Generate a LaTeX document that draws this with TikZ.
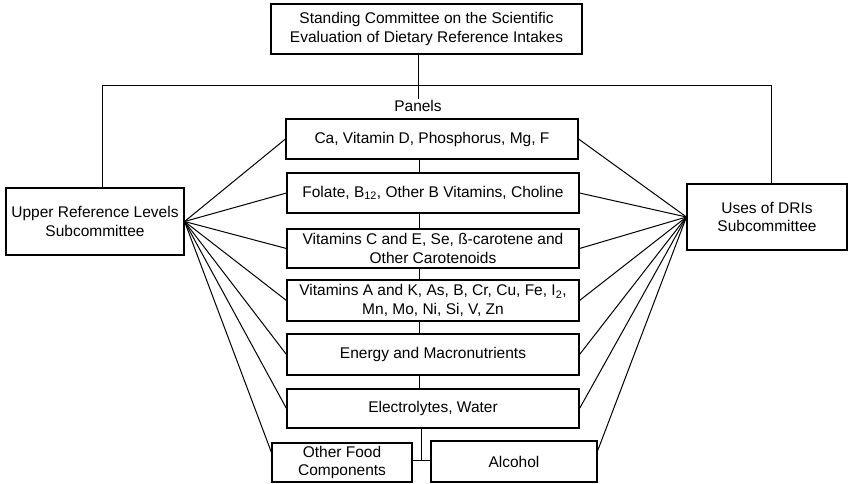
\documentclass[tikz,border=0pt]{standalone}
\usepackage{fontspec}
\setmainfont{Liberation Sans}
\usetikzlibrary{calc}
\newcommand\dfont{\fontsize{15.5}{18.5}\selectfont}
\begin{document}
\begin{tikzpicture}[x=1pt,y=-1pt,
  box/.style={draw, line width=1.1pt, inner sep=0pt, align=center, font=\dfont},
  panel/.style={box, minimum width=292pt},
  link/.style={line width=1pt}]
\useasboundingbox (0,0) rectangle (849,484);
\fill[white] (0,0) rectangle (849,484);

\node[box, minimum width=311pt, minimum height=50pt] (top) at (426.5,29)
  {Standing Committee on the Scientific\\Evaluation of Dietary Reference Intakes};
\node[box, minimum width=178pt, minimum height=67pt] (left) at (95,221.5)
  {Upper Reference Levels\\Subcommittee};
\node[box, minimum width=160pt, minimum height=66pt] (right) at (767,217)
  {Uses of DRIs\\Subcommittee};
\node[font=\dfont] (plabel) at (418,106) {Panels};

\node[panel, minimum height=40pt] (p1) at (432,139) {Ca, Vitamin D, Phosphorus, Mg, F};
\node[panel, minimum height=40pt] (p2) at (433,193) {Folate, B\textsubscript{12}, Other B Vitamins, Choline};
\node[panel, minimum height=39pt] (p3) at (433,248.5) {Vitamins C and E, Se, ß-carotene and\\Other Carotenoids};
\node[panel, minimum height=41pt] (p4) at (433,300.5) {Vitamins A and K, As, B, Cr, Cu, Fe, I\textsubscript{2},\\Mn, Mo, Ni, Si, V, Zn};
\node[panel, minimum height=41pt] (p5) at (433,354.5) {Energy and Macronutrients};
\node[panel, minimum height=39pt] (p6) at (433,408.5) {Electrolytes, Water};
\node[box, minimum width=140pt, minimum height=39pt] (ofc) at (342,462.5) {Other Food\\Components};
\node[box, minimum width=166pt, minimum height=41pt] (alc) at (514,461.5) {Alcohol};

% top structure
\coordinate (tj) at (418,99);
\coordinate (hl) at (102,86);
\coordinate (hr) at (771,86);
\draw[link] (top.south -| tj) -- (tj);
\draw[link] (left.north -| hl) -- (hl) -- (hr) -- (right.north -| hr);

% panel chain
\coordinate (pv) at (419,0);
\draw[link] (p1.south -| pv) -- (p2.north -| pv);
\draw[link] (p2.south -| pv) -- (p3.north -| pv);
\draw[link] (p3.south -| pv) -- (p4.north -| pv);
\draw[link] (p4.south -| pv) -- (p5.north -| pv);
\draw[link] (p5.south -| pv) -- (p6.north -| pv);
\coordinate (jn) at (421,460);
\draw[link] (p6.south -| jn) -- (jn);
\draw[link] (ofc.east |- jn) -- (alc.west |- jn);

% fan from left subcommittee
\foreach \p in {p1,p2,p3,p4,p5,p6}
  \draw[link] (left.east) -- (\p.west);
\draw[link] (left.east) -- ($(ofc.north west)!0.25!(ofc.south west)$);

% fan from right subcommittee
\foreach \p in {p1,p2,p3,p4,p5,p6}
  \draw[link] (right.west) -- (\p.east);
\draw[link] (right.west) -- ($(alc.north east)!0.25!(alc.south east)$);
\end{tikzpicture}
\end{document}
